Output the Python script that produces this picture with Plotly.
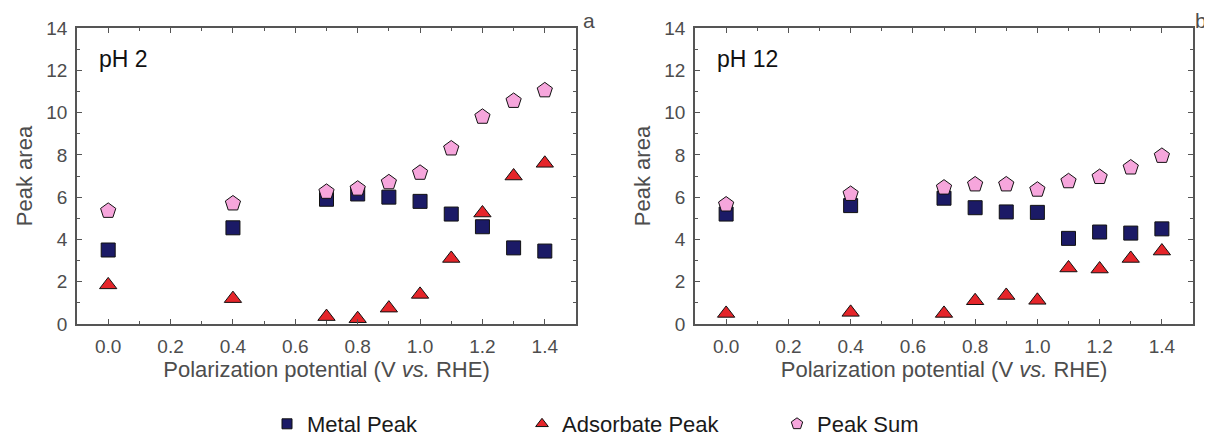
import plotly.graph_objects as go

potential = [0.0, 0.4, 0.7, 0.8, 0.9, 1.0, 1.1, 1.2, 1.3, 1.4]

ph2_metal = [3.5, 4.55, 5.9, 6.15, 6.0, 5.8, 5.2, 4.6, 3.6, 3.45]
ph2_adsorbate = [1.85, 1.2, 0.35, 0.25, 0.75, 1.4, 3.1, 5.25, 7.0, 7.6]
ph2_sum = [5.35, 5.7, 6.25, 6.4, 6.7, 7.15, 8.3, 9.8, 10.55, 11.05]

ph12_metal = [5.2, 5.6, 5.95, 5.5, 5.3, 5.28, 4.05, 4.35, 4.3, 4.5]
ph12_adsorbate = [0.5, 0.55, 0.5, 1.1, 1.35, 1.12, 2.65, 2.6, 3.1, 3.45]
ph12_sum = [5.65, 6.15, 6.45, 6.6, 6.6, 6.35, 6.75, 6.95, 7.4, 7.95]

series_names = ["Metal Peak", "Adsorbate Peak", "Peak Sum"]
x_tick_vals = [0.0, 0.2, 0.4, 0.6, 0.8, 1.0, 1.2, 1.4]
x_tick_text = ["0.0", "0.2", "0.4", "0.6", "0.8", "1.0", "1.2", "1.4"]
y_tick_vals = [0, 2, 4, 6, 8, 10, 12, 14]

FONT = "Liberation Sans, Arial, sans-serif"
GRAY = "#555555"
styles = [
    dict(symbol="square", color="#1b1a66", size=14),
    dict(symbol="triangle-up", color="#e5252a", size=15),
    dict(symbol="pentagon", color="#f6a6dc", size=16),
]

# The page body has an 8px margin, so the figure is drawn 8px smaller
# and every position below is given in page pixels minus that offset.
OFF = 8
W, H = 1212 - OFF, 438 - OFF
TOP, BOTTOM = 28 - OFF, 324 - OFF
PH = BOTTOM - TOP


def px(x):
    return (x - OFF) / W


def py(y):
    return (BOTTOM - (y - OFF)) / PH


fig = go.Figure()
panels = [
    ("x", "y", [ph2_metal, ph2_adsorbate, ph2_sum]),
    ("x2", "y2", [ph12_metal, ph12_adsorbate, ph12_sum]),
]
for xa, ya, data in panels:
    for name, vals, st in zip(series_names, data, styles):
        fig.add_trace(go.Scatter(
            x=potential, y=vals, mode="markers", name=name,
            xaxis=xa, yaxis=ya, showlegend=False,
            marker=dict(symbol=st["symbol"], color=st["color"], size=st["size"],
                        line=dict(color="#111111", width=1)),
        ))
# legend-only entries (smaller symbols, as in the reference legend)
for name, st in zip(series_names, styles):
    fig.add_trace(go.Scatter(
        x=[None], y=[None], mode="markers", name=name, showlegend=True,
        marker=dict(symbol=st["symbol"], color=st["color"], size=st["size"] - 4,
                    line=dict(color="#111111", width=1)),
    ))

axis_common = dict(
    showline=True, linecolor=GRAY, linewidth=1.5, mirror="ticks",
    ticks="inside", ticklen=5, tickwidth=1.2, tickcolor=GRAY,
    showgrid=False, zeroline=False, automargin=False, ticklabelstandoff=4,
    tickfont=dict(family=FONT, size=19, color="#4d4d4d"),
)
xaxis_cfg = dict(axis_common, range=[-0.1, 1.5], tickvals=x_tick_vals, ticktext=x_tick_text,
                 minor=dict(dtick=0.1, ticks="inside", ticklen=3, tickcolor=GRAY, showgrid=False),
                 title=dict(text="Polarization potential (V <i>vs.</i> RHE)",
                            font=dict(family=FONT, size=22, color="#4d4d4d"), standoff=6))
yaxis_cfg = dict(axis_common, range=[0, 14], tickvals=y_tick_vals,
                 minor=dict(dtick=1, ticks="inside", ticklen=3, tickcolor=GRAY, showgrid=False),
                 title=dict(text="Peak area", font=dict(family=FONT, size=22, color="#4d4d4d"), standoff=8))

fig.update_layout(
    width=W, height=H,
    margin=dict(l=0, r=0, t=TOP, b=H - BOTTOM, autoexpand=False),
    paper_bgcolor="white", plot_bgcolor="white",
    xaxis=dict(xaxis_cfg, domain=[px(77), px(576)], anchor="y"),
    yaxis=dict(yaxis_cfg, domain=[0, 1], anchor="x"),
    xaxis2=dict(xaxis_cfg, domain=[px(695), px(1193)], anchor="y2"),
    yaxis2=dict(yaxis_cfg, domain=[0, 1], anchor="x2"),
    legend=dict(orientation="h", x=px(267), xanchor="left", y=py(424), yanchor="middle",
                font=dict(family=FONT, size=22, color="#1a1a1a"),
                entrywidth=210, bgcolor="rgba(0,0,0,0)"),
    annotations=[
        dict(text="pH 2", xref="x domain", yref="y domain", x=0.04, y=0.895,
             xanchor="left", yanchor="middle", showarrow=False,
             font=dict(family=FONT, size=23, color="#111111")),
        dict(text="pH 12", xref="x2 domain", yref="y2 domain", x=0.04, y=0.895,
             xanchor="left", yanchor="middle", showarrow=False,
             font=dict(family=FONT, size=23, color="#111111")),
        dict(text="a", xref="paper", yref="paper", x=px(589), y=py(21),
             xanchor="center", yanchor="middle", showarrow=False,
             font=dict(family=FONT, size=21, color="#4d4d4d")),
        dict(text="b", xref="paper", yref="paper", x=px(1201), y=py(21),
             xanchor="center", yanchor="middle", showarrow=False,
             font=dict(family=FONT, size=21, color="#4d4d4d")),
    ],
)

fig.write_html("out.html")
